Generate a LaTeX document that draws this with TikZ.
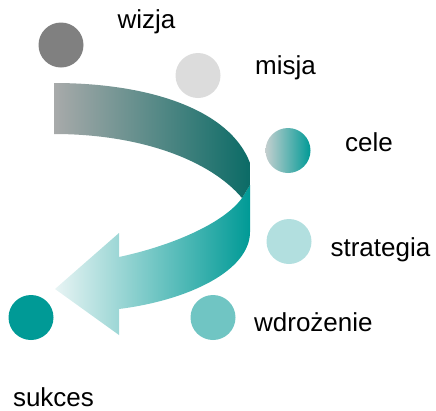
\documentclass[tikz,border=0pt]{standalone}
\usepackage{fontspec}
\setmainfont{Liberation Sans}
\definecolor{szary}{HTML}{808080}
\definecolor{jasnoszary}{HTML}{DCDCDC}
\definecolor{morski}{HTML}{009A96}
\definecolor{morskijasny}{HTML}{B2DFDF}
\definecolor{morskisredni}{HTML}{70C5C3}
\definecolor{ciemnymorski}{HTML}{0B6B66}
\definecolor{szarywstega}{HTML}{A8AAAA}
\definecolor{grot}{HTML}{E8F4F4}
\definecolor{celeszary}{HTML}{C4CFCF}
\begin{document}
\begin{tikzpicture}[x=1pt,y=-1pt,
  dot/.style={circle, minimum size=45pt, inner sep=0pt},
  lbl/.style={font=\fontsize{26}{30}\selectfont, inner sep=0pt, anchor=base}]
\useasboundingbox (0,0) rectangle (436,410);

% kola
\node[dot, fill=szary] (1) at (61,45) {};
\node[dot, fill=jasnoszary] (2) at (198,75.5) {};
\node[dot, left color=celeszary, right color=morski] (3) at (288,150.5) {};
\node[dot, fill=morskijasny] (4) at (289,241.5) {};
\node[dot, fill=morskisredni] (5) at (213,317.5) {};
\node[dot, fill=morski] (6) at (31,317.5) {};

% napisy
\node[lbl] (l1) at (146.5,28) {wizja};
\node[lbl] (l2) at (285.5,74) {misja};
\node[lbl] (l3) at (369,151) {cele};
\node[lbl] (l4) at (380.4,256) {strategia};
\node[lbl] (l5) at (313.4,331) {wdrożenie};
\node[lbl] (l6) at (53.5,406) {sukces};

% strzalka
\path[left color=grot, right color=morski] (242,198) -- (250,185) -- (250,232)
  .. controls (250,270) and (190,300) .. (119,309) -- (119,335) -- (55,289)
  -- (119,233) -- (119,257) .. controls (175,245) and (225,222) .. (242,198) -- cycle;
\path[left color=szarywstega, right color=ciemnymorski] (54,83)
  .. controls (150,83) and (230,110) .. (250,163) -- (250,185) -- (242,198)
  .. controls (210,160) and (140,134) .. (54,134) -- cycle;
\end{tikzpicture}
\end{document}
